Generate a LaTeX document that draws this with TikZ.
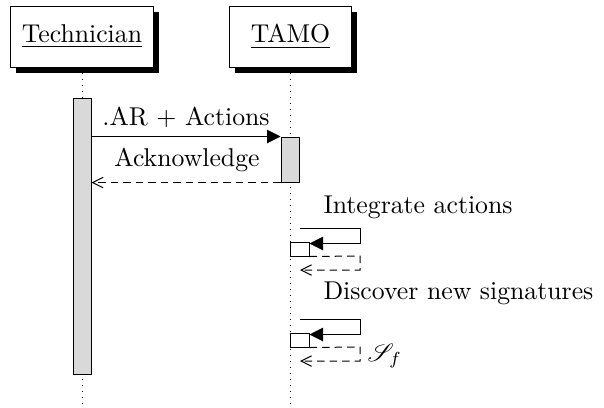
\documentclass[tikz,border=0pt]{standalone}
\usepackage{mathrsfs}
\usetikzlibrary{arrows.meta,shadows}
\begin{document}
\begin{tikzpicture}[x=0.4pt,y=-0.4pt,
  font=\fontsize{10.3}{12}\selectfont,
  actor/.style={draw,fill=white,inner sep=0pt,minimum width=#1,minimum height=24.4pt,
    drop shadow={shadow xshift=2.2pt,shadow yshift=-2.2pt,opacity=1,fill=black}},
  lifeline/.style={dotted},
  actbar/.style={draw,fill=black!15,inner sep=0pt,minimum width=7.2pt},
  selfbox/.style={draw,fill=white,inner sep=0pt,minimum width=7.6pt,minimum height=5.6pt},
  callarrow/.style={-{Triangle[length=5.4pt,width=5.4pt]}},
  retarrow/.style={dash pattern=on 3pt off 2pt,-{Straight Barb[length=4.2pt,width=4.2pt]}},
  lbl/.style={inner sep=0pt,anchor=base}
]
\useasboundingbox (0,0) rectangle (604,407);
% lifelines
\coordinate (techtop) at (82,67);
\coordinate (techbot) at (82,407);
\coordinate (tamotop) at (290,67);
\coordinate (tamobot) at (290,407);
\draw[lifeline] (techtop) -- (techbot);
\draw[lifeline] (tamotop) -- (tamobot);
% actors
\node[actor=56.8pt] (tech) at (82,36.5) {\underline{Technician}};
\node[actor=48.8pt] (tamo) at (290.5,36.5) {\underline{TAMO}};
% activation bars
\node[actbar,minimum height=110.4pt] (ta) at (82,236) {};
\node[actbar,minimum height=18pt] (tb) at (290,159.5) {};
% call and return
\draw[callarrow] (ta.east |- tb.north) -- (tb.north west);
\draw[retarrow] (tb.south west) -- (ta.east |- tb.south);
\node[lbl] (l1) at (186,125) {.AR + Actions};
\node[lbl] (l2) at (187,166) {Acknowledge};
% self call 1
\node[lbl,anchor=base west] (l3) at (323,213) {Integrate actions};
\node[selfbox] (s1) at (299.5,249) {};
\coordinate (a1) at (300,228);
\coordinate (b1) at (360,228);
\coordinate (c1) at (360,243.5);
\coordinate (d1) at (360,256);
\coordinate (e1) at (360,270);
\coordinate (f1) at (300,270);
\draw[callarrow] (a1) -- (b1) -- (c1) -- (s1.east |- c1);
\draw[retarrow] (s1.south east) -- (d1) -- (e1) -- (f1);
% self call 2
\node[lbl,anchor=base west] (l4) at (323,299) {Discover new signatures};
\node[selfbox] (s2) at (299.5,340) {};
\coordinate (a2) at (300,319);
\coordinate (b2) at (360,319);
\coordinate (c2) at (360,334.5);
\coordinate (d2) at (360,347);
\coordinate (e2) at (360,361);
\coordinate (f2) at (300,361);
\draw[callarrow] (a2) -- (b2) -- (c2) -- (s2.east |- c2);
\draw[retarrow] (s2.south east) -- (d2) -- (e2) -- (f2);
\node[inner sep=0pt,anchor=west] (sf) at (367,356) {$\mathscr{S}_f$};
\end{tikzpicture}
\end{document}
